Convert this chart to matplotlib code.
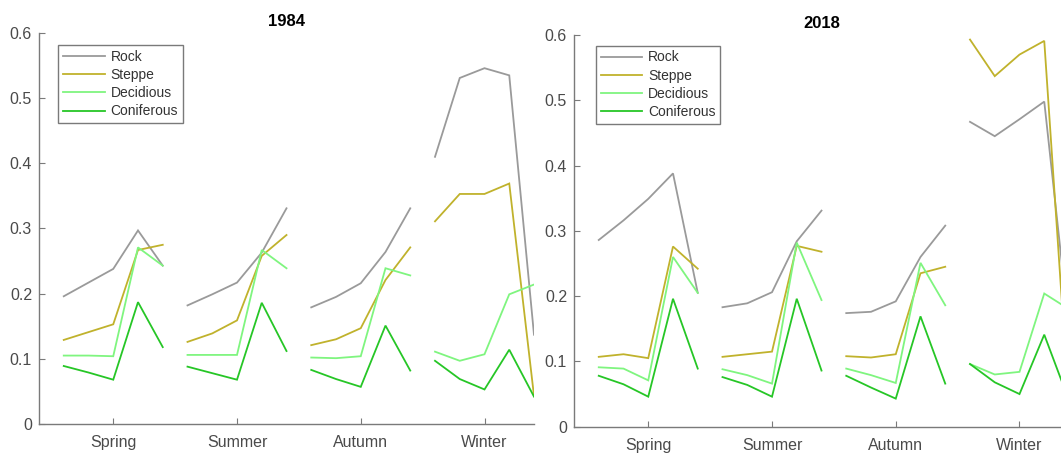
import matplotlib
matplotlib.use("Agg")
import matplotlib.pyplot as plt
import numpy as np

plt.rcParams['font.family'] = ['Liberation Sans', 'DejaVu Sans']

seasons = ['Spring', 'Summer', 'Autumn', 'Winter']
classes = ['Rock', 'Steppe', 'Decidious', 'Coniferous']

# 5 samples per season, seasons in order Spring, Summer, Autumn, Winter
rock_1984 = [0.196, 0.217, 0.238, 0.297, 0.243,
             0.182, 0.199, 0.217, 0.263, 0.331,
             0.179, 0.195, 0.216, 0.264, 0.331,
             0.410, 0.531, 0.546, 0.535, 0.137]
steppe_1984 = [0.129, 0.141, 0.153, 0.267, 0.275,
               0.126, 0.139, 0.159, 0.258, 0.290,
               0.121, 0.130, 0.147, 0.221, 0.271,
               0.311, 0.353, 0.353, 0.369, 0.043]
decid_1984 = [0.105, 0.105, 0.104, 0.271, 0.243,
              0.106, 0.106, 0.106, 0.267, 0.239,
              0.102, 0.101, 0.104, 0.239, 0.228,
              0.111, 0.097, 0.107, 0.199, 0.214]
conif_1984 = [0.089, 0.079, 0.068, 0.187, 0.118,
              0.088, 0.078, 0.068, 0.186, 0.112,
              0.083, 0.069, 0.057, 0.151, 0.082,
              0.097, 0.069, 0.053, 0.114, 0.042]

rock_2018 = [0.286, 0.316, 0.349, 0.388, 0.205,
             0.183, 0.189, 0.206, 0.284, 0.331,
             0.174, 0.176, 0.192, 0.260, 0.308,
             0.467, 0.445, 0.471, 0.498, 0.150]
steppe_2018 = [0.107, 0.111, 0.105, 0.276, 0.242,
               0.107, 0.111, 0.115, 0.277, 0.268,
               0.108, 0.106, 0.111, 0.235, 0.245,
               0.593, 0.537, 0.570, 0.591, 0.030]
decid_2018 = [0.091, 0.089, 0.071, 0.260, 0.205,
              0.088, 0.079, 0.066, 0.282, 0.194,
              0.089, 0.079, 0.067, 0.251, 0.186,
              0.096, 0.080, 0.084, 0.204, 0.180]
conif_2018 = [0.078, 0.065, 0.046, 0.196, 0.089,
              0.076, 0.064, 0.046, 0.196, 0.086,
              0.078, 0.060, 0.043, 0.169, 0.066,
              0.096, 0.068, 0.050, 0.141, 0.040]

colors = ['#9a9a9a', '#c0b22c', '#7ff57f', '#26c626']

W, H = 1061, 454
fig = plt.figure(figsize=(W / 100, H / 100), dpi=100)

panels = [
    ('1984', [rock_1984, steppe_1984, decid_1984, conif_1984],
     [39 / W, 30 / H, 495 / W, 391 / H], (0.039, 0.969)),
    ('2018', [rock_2018, steppe_2018, decid_2018, conif_2018],
     [574 / W, 27.3 / H, 495 / W, 391.7 / H], (0.044, 0.973)),
]

offsets = np.linspace(-0.4, 0.4, 5)
axis_gray = '#7a7a7a'
text_gray = '#4a4a4a'

for title, series, rect, leg_anchor in panels:
    ax = fig.add_axes(rect)
    for name, vals, col in zip(classes, series, colors):
        vals = np.asarray(vals).reshape(len(seasons), 5)
        for i in range(len(seasons)):
            ax.plot(i + 1 + offsets, vals[i], color=col, lw=1.3,
                    label=name if i == 0 else None, solid_joinstyle='miter')
    ax.set_xlim(0.4, 4.4)
    ax.set_ylim(0, 0.6)
    ax.set_xticks(range(1, 5))
    ax.set_xticklabels(seasons)
    ax.set_yticks(np.arange(0, 0.61, 0.1))
    ax.set_yticklabels(['0', '0.1', '0.2', '0.3', '0.4', '0.5', '0.6'])
    for s in ['top', 'right']:
        ax.spines[s].set_visible(False)
    for s in ['left', 'bottom']:
        ax.spines[s].set_color(axis_gray)
        ax.spines[s].set_linewidth(1.0)
    ax.tick_params(direction='in', length=4, width=0.8, color=axis_gray,
                   labelsize=11.5, labelcolor=text_gray)
    ax.tick_params(axis='x', pad=8)
    ax.tick_params(axis='y', pad=5)
    ax.set_title(title, fontsize=12, fontweight='bold', pad=5)
    leg = ax.legend(loc='upper left', bbox_to_anchor=leg_anchor,
                    borderaxespad=0, fontsize=10, handlelength=3.0,
                    handletextpad=0.4, labelspacing=0.3, borderpad=0.35,
                    fancybox=False, framealpha=1)
    leg.get_frame().set_edgecolor(axis_gray)
    leg.get_frame().set_linewidth(1.0)
    for t in leg.get_texts():
        t.set_color('#333333')

fig.savefig('out.png', dpi=100)
